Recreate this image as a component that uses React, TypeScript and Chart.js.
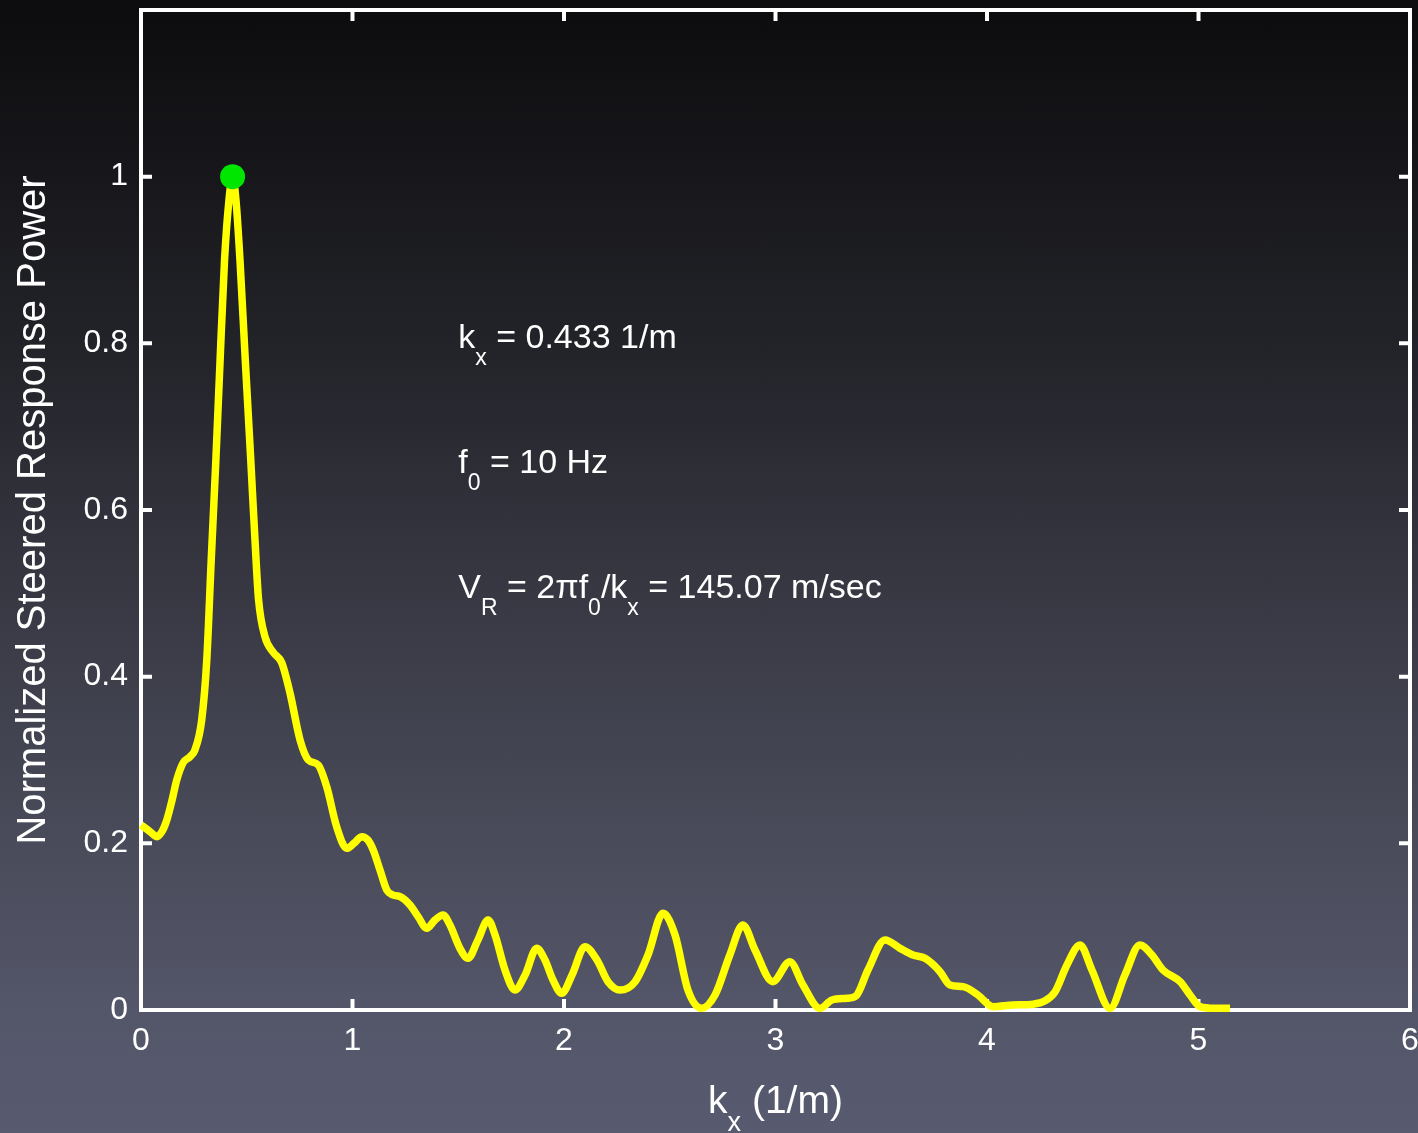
import React, { useEffect, useRef } from "react";
import { Chart, registerables } from "chart.js";

Chart.register(...registerables);

// wavenumber k_x (1/m)
const kx = [
  0, 0.011, 0.043, 0.074, 0.099, 0.122, 0.147, 0.169, 0.2, 0.232, 0.255, 0.287, 0.311, 0.332, 0.354, 0.374, 0.395, 0.416, 0.433,
  0.449, 0.468, 0.493, 0.519, 0.544, 0.556, 0.586, 0.626, 0.665, 0.704, 0.752, 0.791, 0.838, 0.878, 0.925, 0.973,
  1.007, 1.044, 1.073, 1.098, 1.13, 1.162, 1.191, 1.225, 1.272, 1.31, 1.351, 1.39, 1.428, 1.461, 1.508, 1.546,
  1.593, 1.641, 1.674, 1.721, 1.768, 1.816, 1.871, 1.91, 1.948, 1.989, 2.038, 2.099, 2.156, 2.208, 2.265,
  2.336, 2.397, 2.468, 2.525, 2.586, 2.651, 2.714, 2.784, 2.846, 2.903, 2.987, 3.068, 3.13, 3.21, 3.267,
  3.337, 3.381, 3.437, 3.518, 3.589, 3.65, 3.707, 3.778, 3.825, 3.887, 3.957, 4.028, 4.123, 4.218, 4.274,
  4.322, 4.378, 4.44, 4.496, 4.582, 4.652, 4.723, 4.78, 4.832, 4.913, 4.96, 5.007, 5.078, 5.149,
];

// normalized steered response power
const power = [
  0.222, 0.22, 0.214, 0.208, 0.214, 0.228, 0.252, 0.276, 0.297, 0.304, 0.312, 0.348, 0.42, 0.54, 0.66, 0.78, 0.9, 0.972, 1.0,
  0.972, 0.9, 0.78, 0.66, 0.54, 0.492, 0.448, 0.429, 0.417, 0.381, 0.324, 0.3, 0.294, 0.268, 0.22, 0.194,
  0.2, 0.208, 0.204, 0.192, 0.168, 0.144, 0.138, 0.136, 0.126, 0.112, 0.098, 0.108, 0.114, 0.102, 0.074, 0.062,
  0.084, 0.108, 0.09, 0.048, 0.024, 0.042, 0.074, 0.06, 0.036, 0.02, 0.042, 0.076, 0.06, 0.034, 0.024,
  0.034, 0.066, 0.116, 0.09, 0.024, 0.002, 0.018, 0.066, 0.102, 0.072, 0.034, 0.058, 0.03, 0.002, 0.012,
  0.014, 0.017, 0.048, 0.084, 0.074, 0.066, 0.062, 0.046, 0.03, 0.028, 0.018, 0.004, 0.006, 0.007, 0.011,
  0.022, 0.054, 0.078, 0.048, 0.002, 0.042, 0.078, 0.066, 0.048, 0.034, 0.018, 0.004, 0.002, 0.002,
];

const peakK = [0.433];
const peakPower = [1.0];

const xTickValues = [0, 1, 2, 3, 4, 5, 6];
const yTickValues = [0, 0.2, 0.4, 0.6, 0.8, 1];

const yTitle = "Normalized Steered Response Power";

type Seg = { t: string; sub?: boolean };
const annotationLines: Seg[][] = [
  [{ t: "k" }, { t: "x", sub: true }, { t: " = 0.433 1/m" }],
  [{ t: "f" }, { t: "0", sub: true }, { t: " = 10 Hz" }],
  [{ t: "V" }, { t: "R", sub: true }, { t: " = 2\u03c0f" }, { t: "0", sub: true }, { t: "/k" }, { t: "x", sub: true }, { t: " = 145.07 m/sec" }],
];
const annotationK = 1.5;
const annotationPower = [0.795, 0.645, 0.495];
const xTitle: Seg[] = [{ t: "k" }, { t: "x", sub: true }, { t: " (1/m)" }];

const FONT = '"Liberation Sans", Arial, Helvetica, sans-serif';

function segWidths(ctx: CanvasRenderingContext2D, segs: Seg[], size: number, subSize: number) {
  return segs.map((s) => {
    ctx.font = `${s.sub ? subSize : size}px ${FONT}`;
    return ctx.measureText(s.t).width;
  });
}

function drawRich(
  ctx: CanvasRenderingContext2D,
  segs: Seg[],
  x: number,
  y: number,
  size: number,
  subSize: number,
  subOffset: number,
  center = false
) {
  const widths = segWidths(ctx, segs, size, subSize);
  const total = widths.reduce((a, b) => a + b, 0);
  let cx = center ? x - total / 2 : x;
  ctx.textBaseline = "alphabetic";
  ctx.textAlign = "left";
  segs.forEach((s, i) => {
    ctx.font = `${s.sub ? subSize : size}px ${FONT}`;
    ctx.fillText(s.t, cx, s.sub ? y + subOffset : y);
    cx += widths[i];
  });
}

const framePlugin = {
  id: "frameAndText",
  beforeDatasetsDraw(chart: any) {
    const { ctx, chartArea: a, scales } = chart;
    ctx.save();
    ctx.strokeStyle = "#ffffff";
    ctx.lineWidth = 4;
    ctx.strokeRect(a.left, a.top, a.right - a.left, a.bottom - a.top);
    ctx.beginPath();
    const tl = 11;
    for (const t of scales.x.ticks) {
      if (t.value <= 0 || t.value >= 6) continue;
      const px = scales.x.getPixelForValue(t.value);
      ctx.moveTo(px, a.bottom);
      ctx.lineTo(px, a.bottom - tl);
      ctx.moveTo(px, a.top);
      ctx.lineTo(px, a.top + tl);
    }
    for (const t of scales.y.ticks) {
      if (t.value <= 0) continue;
      const py = scales.y.getPixelForValue(t.value);
      ctx.moveTo(a.left, py);
      ctx.lineTo(a.left + tl, py);
      ctx.moveTo(a.right, py);
      ctx.lineTo(a.right - tl, py);
    }
    ctx.stroke();
    ctx.restore();
  },
  afterDraw(chart: any) {
    const { ctx, chartArea: a, scales } = chart;
    ctx.save();
    ctx.fillStyle = "#ffffff";
    const ax = scales.x.getPixelForValue(annotationK);
    annotationLines.forEach((segs, i) => {
      const ay = scales.y.getPixelForValue(annotationPower[i]);
      drawRich(ctx, segs, ax, ay, 34, 23, 17);
    });
    drawRich(ctx, xTitle, (a.left + a.right) / 2, 1113, 39, 27, 18, true);
    ctx.restore();
  },
};

export default function App() {
  const ref = useRef<HTMLCanvasElement | null>(null);

  useEffect(() => {
    if (!ref.current) return;
    const chart = new Chart(ref.current, {
      type: "line",
      data: {
        datasets: [
          {
            label: "peak",
            data: peakK.map((k, i) => ({ x: k, y: peakPower[i] })),
            showLine: false,
            pointRadius: 12.5,
            pointBackgroundColor: "#00e600",
            pointBorderWidth: 0,
            borderColor: "#00e600",
            clip: false as any,
          },
          {
            label: "power",
            data: kx.map((k, i) => ({ x: k, y: power[i] })),
            borderColor: "#ffff00",
            borderWidth: 7.5,
            pointRadius: 0,
            cubicInterpolationMode: "monotone",
            fill: false,
            clip: false as any,
          },
        ],
      },
      options: {
        animation: false,
        responsive: false,
        events: [],
        layout: { autoPadding: false, padding: { top: 10, right: 8, left: 0, bottom: 0 } },
        plugins: { legend: { display: false }, tooltip: { enabled: false } },
        scales: {
          x: {
            type: "linear",
            position: "bottom",
            min: 0,
            max: 6,
            afterBuildTicks: (s: any) => {
              s.ticks = xTickValues.map((v) => ({ value: v }));
            },
            ticks: {
              color: "#ffffff",
              font: { size: 32, family: FONT },
              padding: 12,
              maxRotation: 0,
              autoSkip: false,
              callback: (v: any) => String(v),
            },
            grid: { display: false, drawTicks: false },
            border: { display: false },
            afterFit: (s: any) => {
              s.height = 123;
              s.paddingLeft = 0;
              s.paddingRight = 0;
            },
          },
          y: {
            type: "linear",
            position: "left",
            min: 0,
            max: 1.2,
            afterBuildTicks: (s: any) => {
              s.ticks = yTickValues.map((v) => ({ value: v }));
            },
            ticks: {
              color: "#ffffff",
              font: { size: 32, family: FONT },
              padding: 13,
              autoSkip: false,
              callback: (v: any) => String(Math.round(v * 10) / 10),
            },
            grid: { display: false, drawTicks: false },
            border: { display: false },
            title: {
              display: true,
              text: yTitle,
              color: "#ffffff",
              font: { size: 40, family: FONT },
              padding: { top: 10, bottom: 0 },
            },
            afterFit: (s: any) => {
              s.width = 141;
              s.paddingTop = 0;
              s.paddingBottom = 0;
            },
          },
        },
      },
      plugins: [framePlugin],
    });
    return () => chart.destroy();
  }, []);

  return (
    <div
      style={{
        position: "fixed",
        left: 0,
        top: 0,
        width: 1418,
        height: 1133,
        background:
          "linear-gradient(to bottom, #0c0c0e 0%, #17171b 15%, #222328 30%, #30313a 45%, #3e3f4b 60%, #4a4c5b 75%, #535568 88%, #585b70 100%)",
      }}
    >
      <canvas ref={ref} width={1418} height={1133} style={{ display: "block", width: 1418, height: 1133 }} />
    </div>
  );
}
